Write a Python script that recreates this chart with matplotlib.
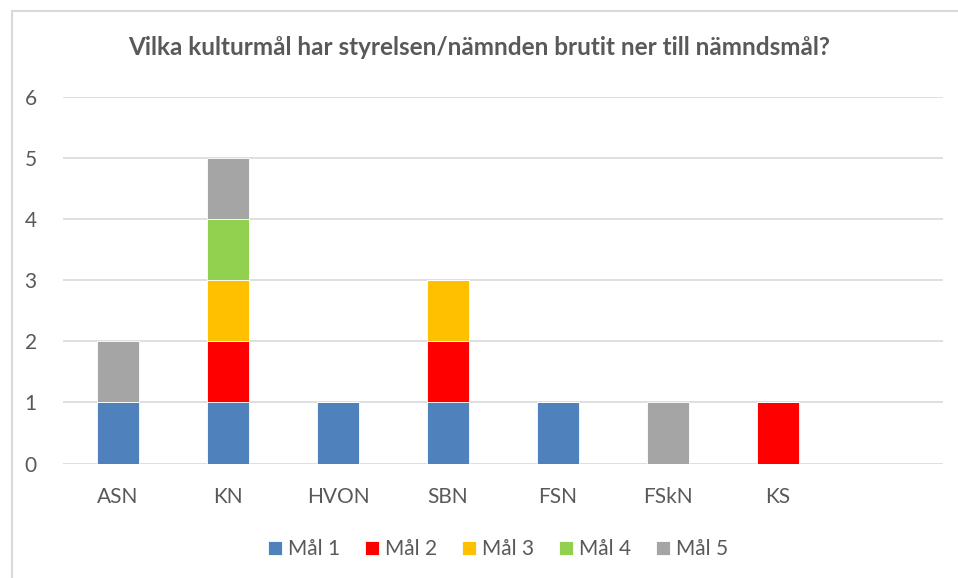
import matplotlib
matplotlib.use("Agg")
import matplotlib.pyplot as plt
from matplotlib.patches import Rectangle
import numpy as np

plt.rcParams['font.family'] = ['Lato', 'DejaVu Sans']

# Chart data
categories = ["ASN", "KN", "HVON", "SBN", "FSN", "FSkN", "KS", ""]
series_names = ["Mål 1", "Mål 2", "Mål 3", "Mål 4", "Mål 5"]
mal1 = [1, 1, 1, 1, 1, 0, 0, 0]
mal2 = [0, 1, 0, 1, 0, 0, 1, 0]
mal3 = [0, 1, 0, 1, 0, 0, 0, 0]
mal4 = [0, 1, 0, 0, 0, 0, 0, 0]
mal5 = [1, 1, 0, 0, 0, 1, 0, 0]
colors = ["#4F81BD", "#FF0000", "#FFC000", "#92D050", "#A5A5A5"]
title = "Vilka kulturmål har styrelsen/nämnden brutit ner till nämndsmål?"

text_color = "#595959"
grid_color = "#D9D9D9"

fig = plt.figure(figsize=(9.58, 5.78), dpi=100)
ax = fig.add_axes([0.0658, 0.198, 0.9185, 0.635])

x = np.arange(len(categories))
bottom = np.zeros(len(categories))
for name, vals, col in zip(series_names, [mal1, mal2, mal3, mal4, mal5], colors):
    vals = np.array(vals, dtype=float)
    ax.bar(x, vals, width=0.39, bottom=bottom, color=col, label=name,
           edgecolor="white", linewidth=0.6, zorder=3)
    bottom += vals

ax.set_xlim(-0.5, len(categories) - 0.5)
ax.set_ylim(0, 6)
ax.set_yticks(range(0, 7))
ax.set_xticks(x)
ax.set_xticklabels(categories)
ax.yaxis.grid(True, color=grid_color, linewidth=1.2, zorder=0)
ax.set_axisbelow(True)
for s in ax.spines.values():
    s.set_visible(False)
ax.tick_params(axis="both", length=0, labelsize=15, colors=text_color)
ax.tick_params(axis="y", pad=19)
ax.tick_params(axis="x", pad=17)

fig.text(0.5, 0.918, title, ha="center", va="center", fontsize=17.5,
         fontweight="bold", color=text_color)

leg = fig.legend(loc="center", bbox_to_anchor=(0.52, 0.05), ncol=5, frameon=False,
                 fontsize=15, handlelength=0.65, handleheight=0.65,
                 handletextpad=0.3, columnspacing=1.2)
for t in leg.get_texts():
    t.set_color(text_color)

# outer chart frame (only left and top edges visible in the crop)
fig.add_artist(Rectangle((12 / 958, -0.1), 1.1, 1.1 - 11 / 578,
                         transform=fig.transFigure, fill=False,
                         edgecolor=grid_color, linewidth=1.5))

fig.savefig("out.png", dpi=100)
